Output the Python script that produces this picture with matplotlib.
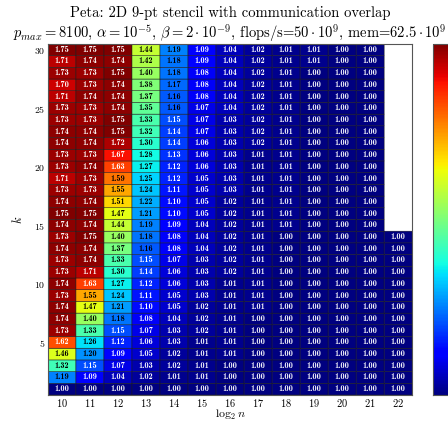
import numpy as np
import matplotlib
matplotlib.use("Agg")
import matplotlib.pyplot as plt
from matplotlib.colors import Normalize

plt.rcParams['font.family'] = 'serif'
plt.rcParams['font.serif'] = ['cmr10', 'DejaVu Serif']
plt.rcParams['mathtext.fontset'] = 'cm'
plt.rcParams['axes.formatter.use_mathtext'] = True

log2_n = [10, 11, 12, 13, 14, 15, 16, 17, 18, 19, 20, 21, 22]
k_values = list(range(1, 31))
nan = np.nan

# speedup, one row per k (k = 1 .. 30), columns log2 n = 10 .. 22
speedup = [
    [1.00, 1.00, 1.00, 1.00, 1.00, 1.00, 1.00, 1.00, 1.00, 1.00, 1.00, 1.00, 1.00],
    [1.19, 1.09, 1.04, 1.02, 1.01, 1.01, 1.00, 1.00, 1.00, 1.00, 1.00, 1.00, 1.00],
    [1.32, 1.15, 1.07, 1.03, 1.02, 1.01, 1.00, 1.00, 1.00, 1.00, 1.00, 1.00, 1.00],
    [1.46, 1.20, 1.09, 1.05, 1.02, 1.01, 1.01, 1.00, 1.00, 1.00, 1.00, 1.00, 1.00],
    [1.62, 1.26, 1.12, 1.06, 1.03, 1.01, 1.01, 1.00, 1.00, 1.00, 1.00, 1.00, 1.00],
    [1.73, 1.33, 1.15, 1.07, 1.03, 1.02, 1.01, 1.00, 1.00, 1.00, 1.00, 1.00, 1.00],
    [1.74, 1.40, 1.18, 1.08, 1.04, 1.02, 1.01, 1.00, 1.00, 1.00, 1.00, 1.00, 1.00],
    [1.74, 1.47, 1.21, 1.10, 1.05, 1.02, 1.01, 1.01, 1.00, 1.00, 1.00, 1.00, 1.00],
    [1.73, 1.55, 1.24, 1.11, 1.05, 1.03, 1.01, 1.01, 1.00, 1.00, 1.00, 1.00, 1.00],
    [1.74, 1.63, 1.27, 1.12, 1.06, 1.03, 1.01, 1.01, 1.00, 1.00, 1.00, 1.00, 1.00],
    [1.73, 1.71, 1.30, 1.14, 1.06, 1.03, 1.02, 1.01, 1.00, 1.00, 1.00, 1.00, 1.00],
    [1.73, 1.74, 1.33, 1.15, 1.07, 1.03, 1.02, 1.01, 1.00, 1.00, 1.00, 1.00, 1.00],
    [1.74, 1.74, 1.37, 1.16, 1.08, 1.04, 1.02, 1.01, 1.00, 1.00, 1.00, 1.00, 1.00],
    [1.73, 1.75, 1.40, 1.18, 1.08, 1.04, 1.02, 1.01, 1.00, 1.00, 1.00, 1.00, 1.00],
    [1.74, 1.74, 1.44, 1.19, 1.09, 1.04, 1.02, 1.01, 1.01, 1.00, 1.00, 1.00, nan],
    [1.75, 1.75, 1.47, 1.21, 1.10, 1.05, 1.02, 1.01, 1.01, 1.00, 1.00, 1.00, nan],
    [1.74, 1.74, 1.51, 1.22, 1.10, 1.05, 1.02, 1.01, 1.01, 1.00, 1.00, 1.00, nan],
    [1.73, 1.73, 1.55, 1.24, 1.11, 1.05, 1.03, 1.01, 1.01, 1.00, 1.00, 1.00, nan],
    [1.71, 1.73, 1.59, 1.25, 1.12, 1.05, 1.03, 1.01, 1.01, 1.00, 1.00, 1.00, nan],
    [1.73, 1.74, 1.63, 1.27, 1.12, 1.06, 1.03, 1.01, 1.01, 1.00, 1.00, 1.00, nan],
    [1.73, 1.73, 1.67, 1.28, 1.13, 1.06, 1.03, 1.01, 1.01, 1.00, 1.00, 1.00, nan],
    [1.74, 1.74, 1.72, 1.30, 1.14, 1.06, 1.03, 1.02, 1.01, 1.00, 1.00, 1.00, nan],
    [1.74, 1.74, 1.75, 1.32, 1.14, 1.07, 1.03, 1.02, 1.01, 1.00, 1.00, 1.00, nan],
    [1.73, 1.73, 1.75, 1.33, 1.15, 1.07, 1.03, 1.02, 1.01, 1.00, 1.00, 1.00, nan],
    [1.73, 1.73, 1.74, 1.35, 1.16, 1.07, 1.04, 1.02, 1.01, 1.00, 1.00, 1.00, nan],
    [1.71, 1.74, 1.74, 1.37, 1.16, 1.08, 1.04, 1.02, 1.01, 1.00, 1.00, 1.00, nan],
    [1.70, 1.73, 1.74, 1.38, 1.17, 1.08, 1.04, 1.02, 1.01, 1.00, 1.00, 1.00, nan],
    [1.73, 1.73, 1.75, 1.40, 1.18, 1.08, 1.04, 1.02, 1.01, 1.00, 1.00, 1.00, nan],
    [1.71, 1.74, 1.74, 1.42, 1.18, 1.09, 1.04, 1.02, 1.01, 1.01, 1.00, 1.00, nan],
    [1.75, 1.75, 1.75, 1.44, 1.19, 1.09, 1.04, 1.02, 1.01, 1.01, 1.00, 1.00, nan],
]

data = np.ma.masked_invalid(np.array(speedup))
x = np.array(log2_n)
y = np.array(k_values)

fig = plt.figure(figsize=(4.48, 4.21), dpi=100)
ax = fig.add_axes([0.107, 0.0617, 0.813, 0.834])
cax = fig.add_axes([0.9665, 0.0617, 0.05, 0.834])

norm = Normalize(vmin=1.0, vmax=1.75)
cmap = plt.get_cmap('jet')
# pcolor skips the masked (missing) cells entirely
mesh = ax.pcolor(np.append(x, x[-1] + 1) - 0.5, np.append(y, y[-1] + 1) - 0.5,
                 data, cmap=cmap, norm=norm, edgecolors='#1a1a1a', linewidth=0.35)

for i, k in enumerate(k_values):
    for j, n in enumerate(log2_n):
        v = speedup[i][j]
        if np.isnan(v):
            continue
        t = norm(v)
        color = 'black' if 0.205 < t < 0.8 else 'white'
        ax.text(n, k, '%.2f' % v, ha='center', va='center', fontsize=6,
                family='cmb10', color=color)

ax.set_xlim(x[0] - 0.5, x[-1] + 0.5)
ax.set_ylim(y[0] - 0.5, y[-1] + 0.5)
ax.set_xticks(log2_n)
ax.set_yticks([5, 10, 15, 20, 25, 30])
ax.tick_params(axis='x', labelsize=7.5, length=0, pad=1.5)
ax.tick_params(axis='y', labelsize=7, length=0, pad=2)
ax.set_xlabel(r'$\log_2 n$', fontsize=8.5, labelpad=-1)
ax.set_ylabel(r'$k$', fontsize=9, labelpad=6)
for s in ax.spines.values():
    s.set_color('#555555')
ax.set_title('Peta: 2D 9-pt stencil with communication overlap\n'
             r'$p_{max}=8100$, $\alpha=10^{-5}$, $\beta=2\cdot10^{-9}$, '
             r'flops/s=$50\cdot10^{9}$, mem=$62.5\cdot10^{9}$',
             fontsize=10.5, pad=4, linespacing=1.15)

cb = fig.colorbar(mesh, cax=cax)
cb.outline.set_edgecolor('#555555')
cb.ax.tick_params(length=3, labelright=False)

fig.savefig('out.png', dpi=100)
